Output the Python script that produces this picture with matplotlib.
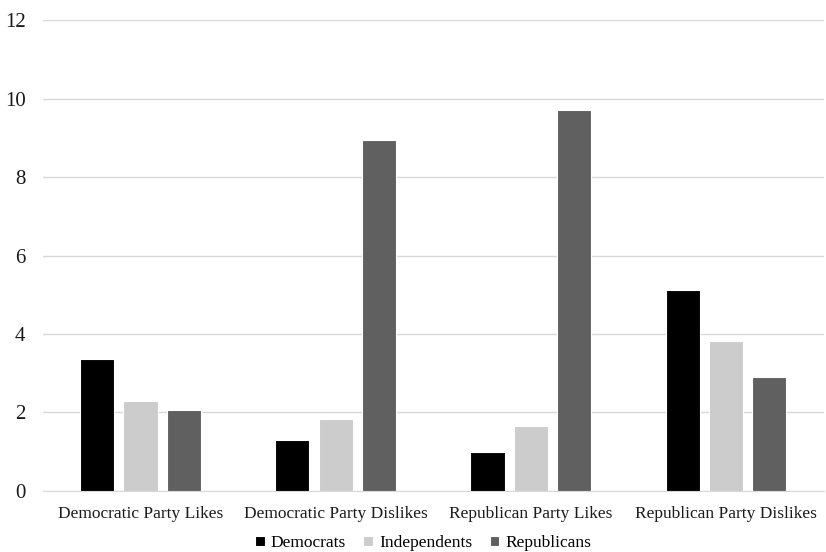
import numpy as np
import matplotlib
matplotlib.use("Agg")
from matplotlib import pyplot as plt

categories = ["Democratic Party Likes", "Democratic Party Dislikes",
              "Republican Party Likes", "Republican Party Dislikes"]
democrats = [3.37, 1.29, 0.99, 5.11]
independents = [2.29, 1.82, 1.64, 3.82]
republicans = [2.07, 8.94, 9.72, 2.89]

series = [("Democrats", democrats, "#000000"),
          ("Independents", independents, "#cccccc"),
          ("Republicans", republicans, "#606060")]

plt.rcParams['font.family'] = ['Liberation Serif', 'DejaVu Serif']

fig = plt.figure(figsize=(8.26, 5.52), dpi=100)
ax = fig.add_axes([0.052, 0.111, 0.945, 0.852])

x = np.arange(len(categories))
width = 0.175
step = 0.222
for i, (name, vals, color) in enumerate(series):
    ax.bar(x + (i - 1) * step, vals, width, color=color, label=name,
           edgecolor="white", linewidth=0.8, zorder=3)

ax.set_xlim(-0.5, len(categories) - 0.5)
ax.set_ylim(0, 12)
ax.set_yticks(range(0, 13, 2))
ax.set_xticks(x)
ax.set_xticklabels(categories)
ax.grid(axis="y", color="#d9d9d9", linewidth=1, zorder=0)
for s in ["top", "right", "left"]:
    ax.spines[s].set_visible(False)
ax.spines["bottom"].set_color("#d9d9d9")
ax.tick_params(axis="both", length=0, colors="#1a1a1a")
ax.tick_params(axis="x", labelsize=12.5, pad=11)
ax.tick_params(axis="y", labelsize=15, pad=12.5)

ax.legend(loc="center", bbox_to_anchor=(0.487, -0.112), ncol=3,
          frameon=False, fontsize=12.5, handlelength=0.55, handleheight=0.55,
          handletextpad=0.35, columnspacing=1.0, borderpad=0)

plt.savefig("out.png")
